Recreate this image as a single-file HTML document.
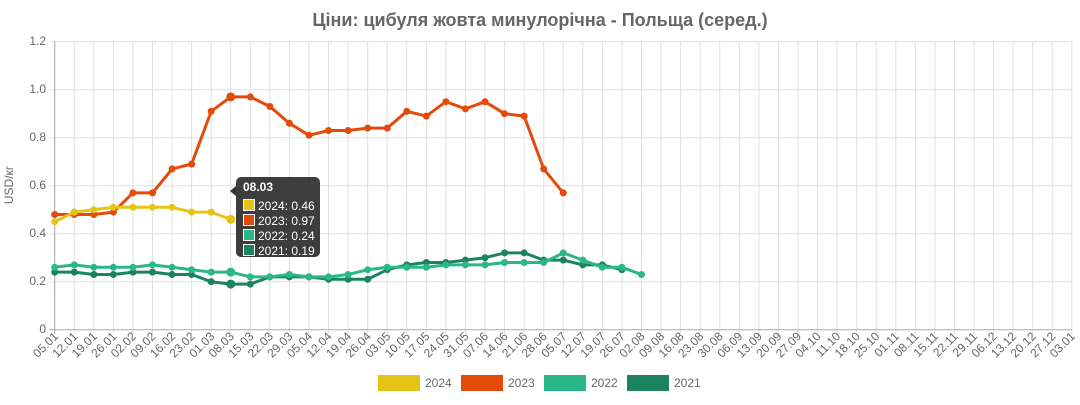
<!DOCTYPE html>
<html><head><meta charset="utf-8"><style>
body{margin:0;background:#fff;width:1080px;height:400px;overflow:hidden;font-family:"Liberation Sans",Roboto,sans-serif}
</style></head><body>
<svg id="s" width="1080" height="400" xmlns="http://www.w3.org/2000/svg" font-family="Liberation Sans, sans-serif">
<text x="540" y="26" text-anchor="middle" font-size="18" font-weight="bold" fill="#666">Ціни: цибуля жовта минулорічна - Польща (серед.)</text>
<g id="grid" stroke="#e0e0e0" stroke-width="1"></g>
<g font-size="12" fill="#666" text-anchor="end">
<text x="46" y="45">1.2</text><text x="46" y="93">1.0</text><text x="46" y="141">0.8</text><text x="46" y="189">0.6</text><text x="46" y="237">0.4</text><text x="46" y="285">0.2</text><text x="46" y="333">0</text>
</g>
<text transform="translate(13,185) rotate(-90)" text-anchor="middle" font-size="12" fill="#666">USD/кг</text>
<g id="xl" font-size="12" fill="#666" text-anchor="end">
<text transform="translate(59,337) rotate(-45)">05.01</text><text transform="translate(78.3,337) rotate(-45)">12.01</text><text transform="translate(97.8,337) rotate(-45)">19.01</text><text transform="translate(117.4,337) rotate(-45)">26.01</text><text transform="translate(136.9,337) rotate(-45)">02.02</text><text transform="translate(156.5,337) rotate(-45)">09.02</text><text transform="translate(176.1,337) rotate(-45)">16.02</text><text transform="translate(195.6,337) rotate(-45)">23.02</text><text transform="translate(215.2,337) rotate(-45)">01.03</text><text transform="translate(234.7,337) rotate(-45)">08.03</text><text transform="translate(254.3,337) rotate(-45)">15.03</text><text transform="translate(273.9,337) rotate(-45)">22.03</text><text transform="translate(293.4,337) rotate(-45)">29.03</text><text transform="translate(313,337) rotate(-45)">05.04</text><text transform="translate(332.5,337) rotate(-45)">12.04</text><text transform="translate(352.1,337) rotate(-45)">19.04</text><text transform="translate(371.7,337) rotate(-45)">26.04</text><text transform="translate(391.2,337) rotate(-45)">03.05</text><text transform="translate(410.8,337) rotate(-45)">10.05</text><text transform="translate(430.3,337) rotate(-45)">17.05</text><text transform="translate(449.9,337) rotate(-45)">24.05</text><text transform="translate(469.5,337) rotate(-45)">31.05</text><text transform="translate(489,337) rotate(-45)">07.06</text><text transform="translate(508.6,337) rotate(-45)">14.06</text><text transform="translate(528.1,337) rotate(-45)">21.06</text><text transform="translate(547.7,337) rotate(-45)">28.06</text><text transform="translate(567.3,337) rotate(-45)">05.07</text><text transform="translate(586.8,337) rotate(-45)">12.07</text><text transform="translate(606.4,337) rotate(-45)">19.07</text><text transform="translate(625.9,337) rotate(-45)">26.07</text><text transform="translate(645.5,337) rotate(-45)">02.08</text><text transform="translate(665.1,337) rotate(-45)">09.08</text><text transform="translate(684.6,337) rotate(-45)">16.08</text><text transform="translate(704.2,337) rotate(-45)">23.08</text><text transform="translate(723.7,337) rotate(-45)">30.08</text><text transform="translate(743.3,337) rotate(-45)">06.09</text><text transform="translate(762.9,337) rotate(-45)">13.09</text><text transform="translate(782.4,337) rotate(-45)">20.09</text><text transform="translate(802,337) rotate(-45)">27.09</text><text transform="translate(821.5,337) rotate(-45)">04.10</text><text transform="translate(841.1,337) rotate(-45)">11.10</text><text transform="translate(860.7,337) rotate(-45)">18.10</text><text transform="translate(880.2,337) rotate(-45)">25.10</text><text transform="translate(899.8,337) rotate(-45)">01.11</text><text transform="translate(919.3,337) rotate(-45)">08.11</text><text transform="translate(938.9,337) rotate(-45)">15.11</text><text transform="translate(958.5,337) rotate(-45)">22.11</text><text transform="translate(978,337) rotate(-45)">29.11</text><text transform="translate(997.6,337) rotate(-45)">06.12</text><text transform="translate(1017.1,337) rotate(-45)">13.12</text><text transform="translate(1036.7,337) rotate(-45)">20.12</text><text transform="translate(1056.3,337) rotate(-45)">27.12</text><text transform="translate(1075.8,337) rotate(-45)">03.01</text>
</g>
<g id="series"></g>
<g>
<rect x="236" y="177" width="84" height="80" rx="5" fill="#333" fill-opacity="0.95"/>
<polygon points="236,186 230,191 236,196" fill="#333"/>
<text x="243" y="191" font-size="12" font-weight="bold" fill="#fff">08.03</text>
<g font-size="12" fill="#fff">
<rect x="243.5" y="199.5" width="11" height="11" fill="#e6c317" stroke="#fff"/><text x="258" y="210">2024: 0.46</text>
<rect x="243.5" y="214.5" width="11" height="11" fill="#e34a0c" stroke="#fff"/><text x="258" y="225">2023: 0.97</text>
<rect x="243.5" y="229.5" width="11" height="11" fill="#2ab887" stroke="#fff"/><text x="258" y="240">2022: 0.24</text>
<rect x="243.5" y="244.5" width="11" height="11" fill="#1b8360" stroke="#fff"/><text x="258" y="255">2021: 0.19</text>
</g>
</g>
<g font-size="12" fill="#666">
<rect x="378" y="375" width="42" height="16" fill="#e6c317"/><text x="425" y="387">2024</text>
<rect x="461" y="375" width="42" height="16" fill="#e34a0c"/><text x="508" y="387">2023</text>
<rect x="544" y="375" width="42" height="16" fill="#2ab887"/><text x="591" y="387">2022</text>
<rect x="627" y="375" width="42" height="16" fill="#1b8360"/><text x="674" y="387">2021</text>
</g>
</svg>
<script>
var NS="http://www.w3.org/2000/svg";
function X(i){return 54.7+i*19.56}function Y(v){return 329.7-240*v}
var g=document.getElementById("grid"),h="";
for(var i=0;i<53;i++){h+='<line x1="'+X(i)+'" y1="41" x2="'+X(i)+'" y2="334"/>';}
for(var k=1;k<=6;k++){h+='<line x1="50" y1="'+Y(k*0.2)+'" x2="1072" y2="'+Y(k*0.2)+'"/>';}
h+='<line x1="50" y1="329.7" x2="1072" y2="329.7" stroke="#aaa"/><line x1="54.7" y1="41" x2="54.7" y2="334" stroke="#aaa"/>';
g.innerHTML=h;
var S=[
["#1b8360",[0.24,0.24,0.23,0.23,0.24,0.24,0.23,0.23,0.20,0.19,0.19,0.22,0.22,0.22,0.21,0.21,0.21,0.25,0.27,0.28,0.28,0.29,0.30,0.32,0.32,0.29,0.29,0.27,0.27,0.25]],
["#2ab887",[0.26,0.27,0.26,0.26,0.26,0.27,0.26,0.25,0.24,0.24,0.22,0.22,0.23,0.22,0.22,0.23,0.25,0.26,0.26,0.26,0.27,0.27,0.27,0.28,0.28,0.28,0.32,0.29,0.26,0.26,0.23]],
["#e34a0c",[0.48,0.48,0.48,0.49,0.57,0.57,0.67,0.69,0.91,0.97,0.97,0.93,0.86,0.81,0.83,0.83,0.84,0.84,0.91,0.89,0.95,0.92,0.95,0.90,0.89,0.67,0.57]],
["#e6c317",[0.45,0.49,0.50,0.51,0.51,0.51,0.51,0.49,0.49,0.46]]];
var out="";
S.forEach(function(s){var p=s[1].map(function(v,i){return X(i).toFixed(1)+","+Y(v).toFixed(1)}).join(" ");
out+='<polyline points="'+p+'" fill="none" stroke="'+s[0]+'" stroke-width="3" stroke-linejoin="round"/>';
s[1].forEach(function(v,i){out+='<circle cx="'+X(i)+'" cy="'+Y(v)+'" r="'+(i==9?4.5:3.5)+'" fill="'+s[0]+'"/>';});});
document.getElementById("series").innerHTML=out;
</script>
</body></html>
